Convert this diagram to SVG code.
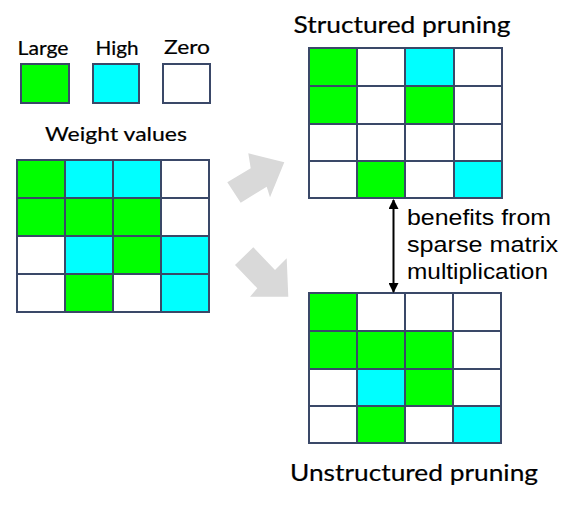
<svg xmlns="http://www.w3.org/2000/svg" width="581" height="508" viewBox="0 0 581 508">
<style>
.g{fill:#00ff00}.c{fill:#00ffff}.w{fill:#ffffff}
rect{stroke:#3a4868;stroke-width:2}
.t{font-family:Lato,"Open Sans",sans-serif;fill:#000;stroke:#000;stroke-width:0.2}
.s{font-family:"Liberation Sans",Arial,sans-serif;fill:#000;font-size:22.5px}
</style>
<defs>
<marker id="ah" viewBox="0 0 10 10" refX="9" refY="5" markerWidth="10" markerHeight="10" orient="auto-start-reverse" markerUnits="userSpaceOnUse">
<path d="M0,0 L10,5 L0,10 z" fill="#000"/>
</marker>
</defs>
<rect width="581" height="508" fill="#fff" style="stroke:none"/>
<g id="legend">
<text class="t" x="43" y="55" font-size="18.5" text-anchor="middle" textLength="51" lengthAdjust="spacingAndGlyphs">Large</text>
<text class="t" x="117" y="55" font-size="18.5" text-anchor="middle" textLength="43" lengthAdjust="spacingAndGlyphs">High</text>
<text class="t" x="187" y="54" font-size="18.5" text-anchor="middle" textLength="46" lengthAdjust="spacingAndGlyphs">Zero</text>
<rect class="g" x="21" y="64" width="48" height="39"/>
<rect class="c" x="93" y="64" width="46" height="39"/>
<rect class="w" x="163" y="64" width="47" height="39"/>
</g>
<g id="weights">
<text class="t" x="116" y="141" font-size="20" text-anchor="middle" textLength="142" lengthAdjust="spacingAndGlyphs">Weight values</text>
<rect class="g" x="17" y="160" width="48" height="38"/><rect class="c" x="65" y="160" width="48" height="38"/><rect class="c" x="113" y="160" width="48" height="38"/><rect class="w" x="161" y="160" width="48" height="38"/>
<rect class="g" x="17" y="198" width="48" height="38"/><rect class="g" x="65" y="198" width="48" height="38"/><rect class="g" x="113" y="198" width="48" height="38"/><rect class="w" x="161" y="198" width="48" height="38"/>
<rect class="w" x="17" y="236" width="48" height="38"/><rect class="c" x="65" y="236" width="48" height="38"/><rect class="g" x="113" y="236" width="48" height="38"/><rect class="c" x="161" y="236" width="48" height="38"/>
<rect class="w" x="17" y="274" width="48" height="38"/><rect class="g" x="65" y="274" width="48" height="38"/><rect class="w" x="113" y="274" width="48" height="38"/><rect class="c" x="161" y="274" width="48" height="38"/>
</g>
<g id="structured">
<text class="t" x="402" y="33" font-size="23" text-anchor="middle" textLength="217" lengthAdjust="spacingAndGlyphs">Structured pruning</text>
<rect class="g" x="309" y="48" width="48" height="38"/><rect class="w" x="357" y="48" width="48" height="38"/><rect class="c" x="405" y="48" width="49" height="38"/><rect class="w" x="454" y="48" width="48" height="38"/>
<rect class="g" x="309" y="86" width="48" height="38"/><rect class="w" x="357" y="86" width="48" height="38"/><rect class="g" x="405" y="86" width="49" height="38"/><rect class="w" x="454" y="86" width="48" height="38"/>
<rect class="w" x="309" y="124" width="48" height="37"/><rect class="w" x="357" y="124" width="48" height="37"/><rect class="w" x="405" y="124" width="49" height="37"/><rect class="w" x="454" y="124" width="48" height="37"/>
<rect class="w" x="309" y="161" width="48" height="37"/><rect class="g" x="357" y="161" width="48" height="37"/><rect class="w" x="405" y="161" width="49" height="37"/><rect class="c" x="454" y="161" width="48" height="37"/>
</g>
<g id="unstructured">
<rect class="g" x="309" y="293" width="48" height="38"/><rect class="w" x="357" y="293" width="48" height="38"/><rect class="w" x="405" y="293" width="48" height="38"/><rect class="w" x="453" y="293" width="48" height="38"/>
<rect class="g" x="309" y="331" width="48" height="38"/><rect class="g" x="357" y="331" width="48" height="38"/><rect class="g" x="405" y="331" width="48" height="38"/><rect class="w" x="453" y="331" width="48" height="38"/>
<rect class="w" x="309" y="369" width="48" height="37"/><rect class="c" x="357" y="369" width="48" height="37"/><rect class="g" x="405" y="369" width="48" height="37"/><rect class="w" x="453" y="369" width="48" height="37"/>
<rect class="w" x="309" y="406" width="48" height="37"/><rect class="g" x="357" y="406" width="48" height="37"/><rect class="w" x="405" y="406" width="48" height="37"/><rect class="c" x="453" y="406" width="48" height="37"/>
<text class="t" x="414" y="481" font-size="24" text-anchor="middle" textLength="248" lengthAdjust="spacingAndGlyphs">Unstructured pruning</text>
</g>
<g id="connectors">
<polygon fill="#d9d9d9" points="227.3,182.3 250.7,168.3 248.3,153.3 284.3,162.3 270,197.3 266.7,186.7 240.7,202.7"/>
<polygon fill="#d9d9d9" points="253.3,247.3 275,270 286.7,258.3 288.3,296.7 250,296.7 257.3,288.3 235,265"/>
<line x1="393.5" y1="200" x2="393.5" y2="292" stroke="#000" stroke-width="2" marker-start="url(#ah)" marker-end="url(#ah)"/>
</g>
<g id="note">
<text class="s" x="407" y="225" textLength="144" lengthAdjust="spacingAndGlyphs">benefits from</text>
<text class="s" x="407" y="252" textLength="151" lengthAdjust="spacingAndGlyphs">sparse matrix</text>
<text class="s" x="407" y="279" textLength="141" lengthAdjust="spacingAndGlyphs">multiplication</text>
</g>
</svg>
